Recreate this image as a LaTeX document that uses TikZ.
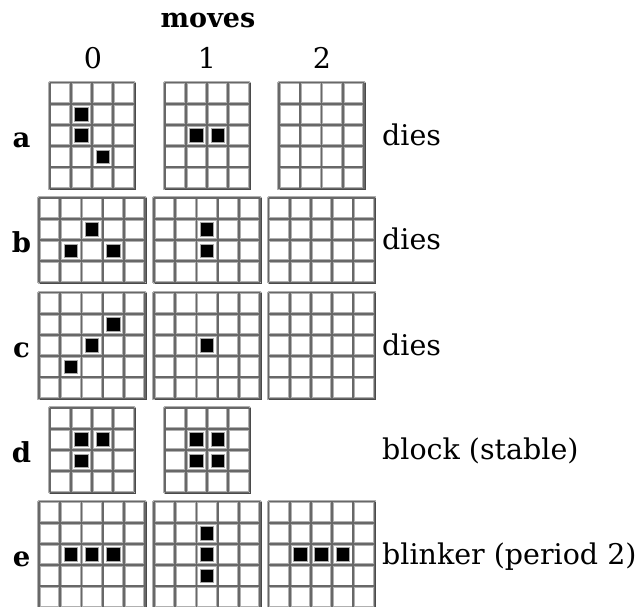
\documentclass[tikz,border=0pt]{standalone}
\usepackage{fontspec}
\setmainfont{DejaVu Serif}
\definecolor{gridhalo}{HTML}{B0B0B0}
\definecolor{gridcore}{HTML}{686868}
\definecolor{gridshadow}{HTML}{4A4A4A}
\newcommand\cellpitch{21.2}
% \lifegrid{cx}{cy}{cols}{rows}{live cells col/row}
\newcommand\lifegrid[5]{%
  \pgfmathsetmacro\gx{#1-#3*\cellpitch/2}%
  \pgfmathsetmacro\gy{#2-#4*\cellpitch/2}%
  \pgfmathsetmacro\gw{#3*\cellpitch}%
  \pgfmathsetmacro\gh{#4*\cellpitch}%
  \begin{scope}[shift={(\gx,\gy)}]
    \foreach \i in {0,...,#3} \draw[gridlinehalo] (\i*\cellpitch,-1) -- (\i*\cellpitch,\gh+1);
    \foreach \j in {0,...,#4} \draw[gridlinehalo] (-1,\j*\cellpitch) -- (\gw+1,\j*\cellpitch);
    \foreach \i in {0,...,#3} \draw[gridlinecore] (\i*\cellpitch,0) -- (\i*\cellpitch,\gh);
    \foreach \j in {0,...,#4} \draw[gridlinecore] (0,\j*\cellpitch) -- (\gw,\j*\cellpitch);
    \draw[gridlineshadow] (\gw+1.3,0.5) -- (\gw+1.3,\gh+1.3) -- (0.5,\gh+1.3);
    \if\relax\detokenize{#5}\relax\else
      \foreach \c/\r in {#5}
        \draw[livecell] (\c*\cellpitch+\cellpitch/2-6.7,\r*\cellpitch+\cellpitch/2-6.7) rectangle ++(13.4,13.4);
    \fi
  \end{scope}}
\tikzset{
  gridlinehalo/.style={gridhalo,line width=3.6pt},
  gridlinecore/.style={gridcore,line width=1.8pt},
  gridlineshadow/.style={gridshadow,line width=1.1pt},
  livecell/.style={fill=black,draw=gray!70,line width=0.7pt},
  heading/.style={font=\bfseries\fontsize{27}{30}\selectfont,anchor=base},
  colnum/.style={font=\fontsize{28.5}{30}\selectfont,anchor=base},
  rowlabel/.style={font=\bfseries\fontsize{27.5}{30}\selectfont,anchor=base},
  fate/.style={font=\fontsize{28.5}{30}\selectfont,anchor=base west,inner sep=0pt}
}
\begin{document}
\begin{tikzpicture}[x=1pt,y=-1pt]
\useasboundingbox[fill=white] (0,0) rectangle (639,606);
\clip (0,0) rectangle (639,606);
% headings
\node[heading] (moves) at (208,27) {moves};
\node[colnum] (n0) at (93,68) {0};
\node[colnum] (n1) at (207,68) {1};
\node[colnum] (n2) at (322,68) {2};
% row a
\lifegrid{92}{135.5}{4}{5}{1/1,1/2,2/3}
\lifegrid{207}{135.5}{4}{5}{1/2,2/2}
\lifegrid{321.5}{135.5}{4}{5}{}
\node[rowlabel] (la) at (21.5,147) {a};
\node[fate] (fa) at (382,145) {dies};
% row b
\lifegrid{92}{240}{5}{4}{2/1,1/2,3/2}
\lifegrid{207}{240}{5}{4}{2/1,2/2}
\lifegrid{321.5}{240}{5}{4}{}
\node[rowlabel] (lb) at (21.5,252) {b};
\node[fate] (fb) at (382,249.5) {dies};
% row c
\lifegrid{92}{345.5}{5}{5}{3/1,2/2,1/3}
\lifegrid{207}{345.5}{5}{5}{2/2}
\lifegrid{321.5}{345.5}{5}{5}{}
\node[rowlabel] (lc) at (21.5,357.5) {c};
\node[fate] (fc) at (382,355) {dies};
% row d
\lifegrid{92}{450}{4}{4}{1/1,2/1,1/2}
\lifegrid{207}{450}{4}{4}{1/1,2/1,1/2,2/2}
\node[rowlabel] (ld) at (21.5,462) {d};
\node[fate] (fd) at (382,459.5) {block (stable)};
% row e
\lifegrid{92}{554.5}{5}{5}{1/2,2/2,3/2}
\lifegrid{207}{554.5}{5}{5}{2/1,2/2,2/3}
\lifegrid{321.5}{554.5}{5}{5}{1/2,2/2,3/2}
\node[rowlabel] (le) at (21.5,566.5) {e};
\node[fate] (fe) at (382,564) {blinker (period 2)};
\end{tikzpicture}
\end{document}
